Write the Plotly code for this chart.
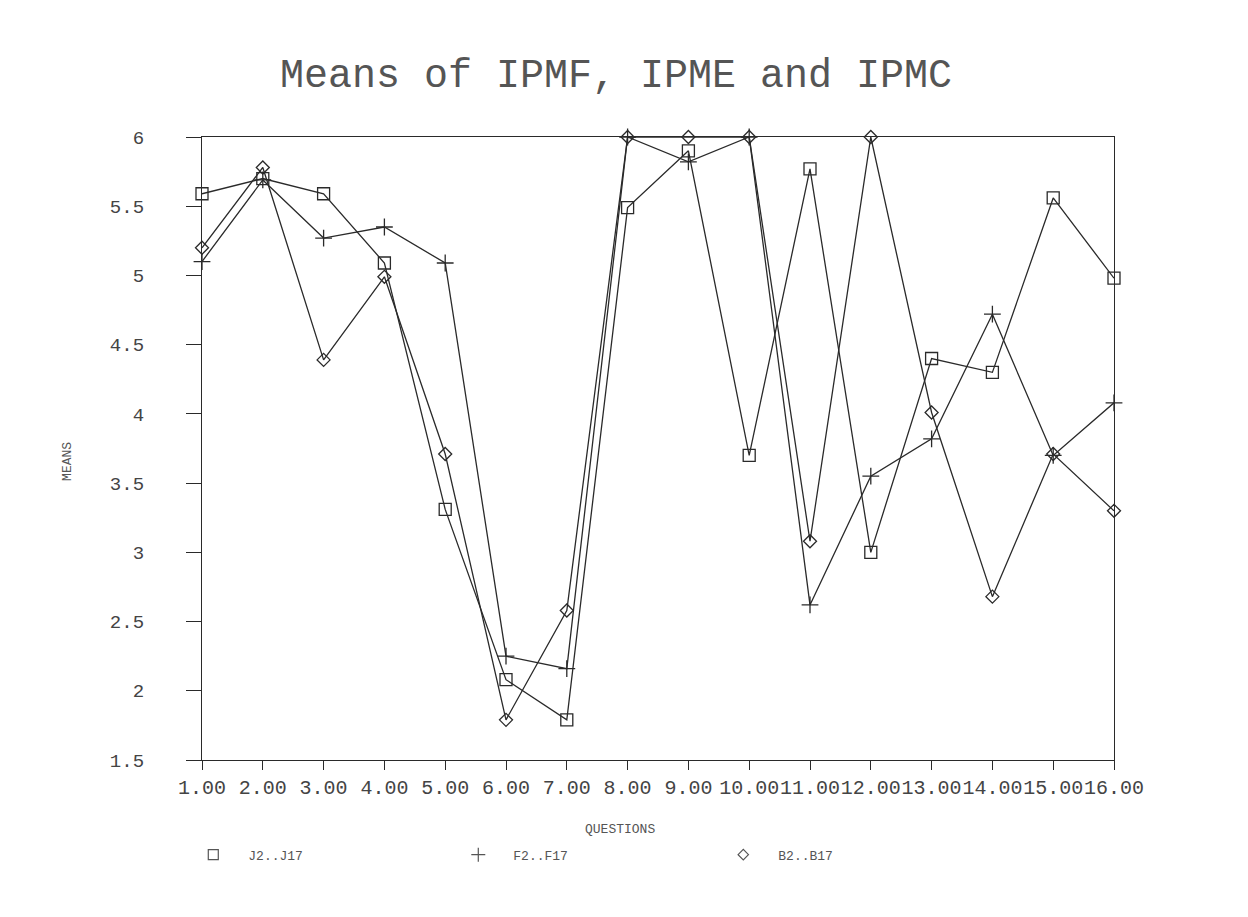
import plotly.graph_objects as go

questions = list(range(1, 17))
tick_labels = ["1.00", "2.00", "3.00", "4.00", "5.00", "6.00", "7.00", "8.00",
               "9.00", "10.00", "11.00", "12.00", "13.00", "14.00", "15.00", "16.00"]
y_ticks = [1.5, 2, 2.5, 3, 3.5, 4, 4.5, 5, 5.5, 6]

series_names = ["J2..J17", "F2..F17", "B2..B17"]
j_means = [5.59, 5.70, 5.59, 5.09, 3.31, 2.08, 1.79, 5.49, 5.90, 3.70, 5.77, 3.00, 4.40, 4.30, 5.56, 4.98]
f_means = [5.10, 5.69, 5.27, 5.35, 5.09, 2.25, 2.16, 6.00, 5.82, 6.00, 2.62, 3.55, 3.82, 4.72, 3.70, 4.08]
b_means = [5.20, 5.78, 4.39, 4.99, 3.71, 1.79, 2.58, 6.00, 6.00, 6.00, 3.08, 6.00, 4.01, 2.68, 3.71, 3.30]
symbols = ["square-open", "cross-thin-open", "diamond-open"]
sizes = [12, 12, 10]

MONO = "Liberation Mono, DejaVu Sans Mono, monospace"
INK = "#2a2a2a"

# page has an 8px body margin; figure coordinates are page coordinates minus 8
W, H = 1240, 909

fig = go.Figure()
for name, vals, sym, sz in zip(series_names, [j_means, f_means, b_means], symbols, sizes):
    fig.add_trace(go.Scatter(
        x=questions, y=vals, mode="lines+markers", showlegend=False,
        line=dict(color=INK, width=1.3),
        marker=dict(symbol=sym, size=sz, color=INK, line=dict(color=INK, width=1.3)),
        cliponaxis=False,
    ))
    fig.add_trace(go.Scatter(
        x=[None], y=[None], mode="markers", name=name, showlegend=True,
        marker=dict(symbol=sym, size=sz - 2, color="#555", line=dict(color="#555", width=1.2)),
    ))

fig.update_layout(
    width=W, height=H,
    paper_bgcolor="white", plot_bgcolor="white",
    margin=dict(l=194, r=134, t=129, b=157),
    title=dict(text="Means of IPMF, IPME and IPMC", xref="container", yref="container",
               x=(616 - 8) / W, y=1 - (73 - 8) / H, xanchor="center", yanchor="middle",
               font=dict(family=MONO, size=40, color="#555")),
    font=dict(family=MONO, color="#444"),
    legend=dict(orientation="h", x=-0.026, y=-0.152, xanchor="left", yanchor="middle",
                entrywidth=190, entrywidthmode="pixels", itemwidth=60,
                font=dict(family=MONO, size=13, color="#555"), bgcolor="rgba(0,0,0,0)"),
    xaxis=dict(range=[1, 16], tickvals=questions, ticktext=tick_labels, tickangle=0,
               showgrid=False, zeroline=False, showline=True, linecolor=INK, linewidth=1.3,
               mirror=True, ticks="outside", ticklen=9, tickcolor=INK, tickwidth=1.3,
               tickfont=dict(family=MONO, size=20, color="#444")),
    yaxis=dict(range=[1.5, 6], tickvals=y_ticks,
               showgrid=False, zeroline=False, showline=True, linecolor=INK, linewidth=1.3,
               mirror=True, ticks="outside", ticklen=15, tickcolor=INK, tickwidth=1.3,
               ticklabelstandoff=38,
               tickfont=dict(family=MONO, size=19, color="#444")),
    annotations=[
        dict(text="QUESTIONS", xref="paper", yref="paper", x=0.458, y=-0.112,
             showarrow=False, xanchor="center", yanchor="middle",
             font=dict(family=MONO, size=13, color="#555")),
        dict(text="MEANS", xref="paper", yref="paper", x=-0.147, y=0.48, textangle=-90,
             showarrow=False, xanchor="center", yanchor="middle",
             font=dict(family=MONO, size=13, color="#555")),
    ],
)

fig.write_html("out.html")
